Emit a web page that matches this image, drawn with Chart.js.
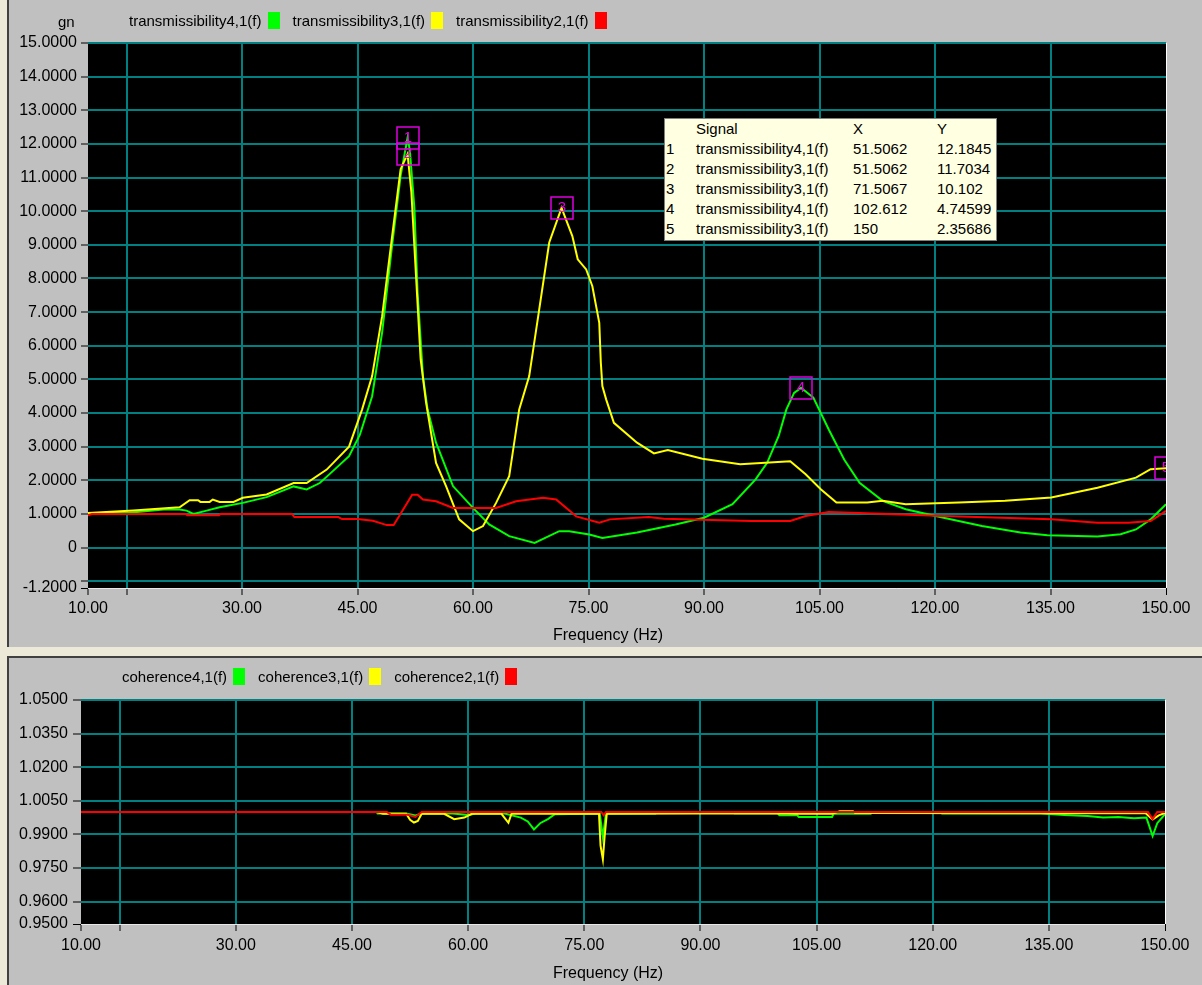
<!DOCTYPE html>
<html>
<head>
<meta charset="utf-8">
<title>transmissibility / coherence</title>
<script src="https://cdn.jsdelivr.net/npm/chart.js@4.4.0/dist/chart.umd.min.js"></script>
<style>
    html, body { margin: 0; padding: 0; }
    body {
        width: 1202px; height: 985px; position: relative; overflow: hidden;
        background: #ece9d8;
        font-family: "Liberation Sans", Arial, sans-serif; color: #000;
    }
    .panel { position: absolute; background: #c0c0c0; box-sizing: border-box; }
    #panelTop { left: 7px; top: 0; width: 1195px; height: 647px; border-left: 2px solid #404040; }
    #panelBottom { left: 7px; top: 656px; width: 1195px; height: 329px; border-left: 2px solid #404040; border-top: 2px solid #404040; }
    canvas { position: absolute; }
    #transChart { left: 9px; top: 0; }
    #cohChart { left: 9px; top: 658px; }
    .legend { position: absolute; display: flex; align-items: center; font-size: 15px; height: 20px; white-space: nowrap; }
    .legend .item { display: flex; align-items: center; margin-right: 13px; }
    .legend .swatch { display: inline-block; width: 12px; height: 17px; margin-left: 6px; }
    #legendTop { left: 129px; top: 10px; }
    #legendBottom { left: 122px; top: 666px; }
    #unitLabel { position: absolute; left: 58px; top: 13px; font-size: 15px; line-height: 18px; }
    .xTitle { position: absolute; left: 508px; width: 200px; text-align: center; font-size: 16px; line-height: 20px; }
    #xTitleTop { top: 625px; }
    #xTitleBottom { top: 963px; }
    #markerTable {
        position: absolute; left: 664px; top: 118px; width: 333px; height: 123px;
        box-sizing: border-box; background: #ffffe1; border: 1px solid #808080;
        font-size: 15px;
    }
    #markerTable .row { position: relative; height: 20px; line-height: 20px; }
    #markerTable .row span { position: absolute; top: 0; white-space: nowrap; }
</style>
</head>
<body>
<div id="panelTop" class="panel"></div>
<div id="panelBottom" class="panel"></div>
<canvas id="transChart" width="1193" height="647"></canvas>
<canvas id="cohChart" width="1193" height="327"></canvas>
<div id="unitLabel">gn</div>
<div id="legendTop" class="legend"></div>
<div id="legendBottom" class="legend"></div>
<div id="markerTable"></div>
<div class="xTitle" id="xTitleTop">Frequency (Hz)</div>
<div class="xTitle" id="xTitleBottom">Frequency (Hz)</div>

<script>
// axis ticks
const freqTicks = [10, 15, 30, 45, 60, 75, 90, 105, 120, 135, 150];
const transTicks = [-1.2, -1, 0, 1, 2, 3, 4, 5, 6, 7, 8, 9, 10, 11, 12, 13, 14, 15];
const cohTicks = [0.95, 0.96, 0.975, 0.99, 1.005, 1.02, 1.035, 1.05];

// transmissibility4,1(f)
const transFreq4 = [10, 15, 19.8, 21.9, 22.8, 23.7, 25.4, 27.1, 30.1, 33.2,
    36.7, 38.4, 40.1, 41.3, 43.9, 45.3, 46.9, 48.2, 49.5, 50.6,
    51.5, 51.8, 52.4, 52.8, 53.5, 54.1, 55.2, 57.4, 60, 62.1,
    64.7, 68.0, 71.2, 72.5, 75.1, 76.8, 81.3, 86.3, 90, 93.7,
    96.7, 98.2, 99.7, 100.7, 101.7, 102.6, 104.2, 106.2, 108.2, 110.2,
    113.2, 116.2, 121.1, 126.1, 131.1, 134.6, 141.1, 144.1, 146.1, 148.0, 150];
const transVal4 = [1.03, 1.03, 1.13, 1.13, 1.10, 1.00, 1.10, 1.20, 1.33, 1.50,
    1.82, 1.73, 1.92, 2.17, 2.72, 3.35, 4.50, 6.40, 9.00, 11.05,
    12.18, 11.80, 10.06, 7.60, 5.10, 4.11, 3.12, 1.83, 1.18, 0.69,
    0.34, 0.14, 0.49, 0.49, 0.39, 0.29, 0.45, 0.69, 0.89, 1.29,
    2.03, 2.52, 3.32, 4.11, 4.60, 4.75, 4.46, 3.51, 2.62, 1.93,
    1.39, 1.14, 0.89, 0.64, 0.45, 0.37, 0.33, 0.40, 0.54, 0.84, 1.29];

// transmissibility3,1(f)
const transFreq3 = [10, 15.9, 21.9, 23.2, 24.3, 24.6, 25.8, 26.2, 27.1, 28.9,
    30.1, 33.2, 36.7, 38.4, 41.0, 43.9, 45.6, 46.9, 48.2, 49.5,
    50.6, 51.5, 52.0, 52.6, 53.2, 53.9, 55.2, 56.5, 58.2, 60,
    61.3, 63.0, 64.7, 66.0, 67.3, 68.6, 69.9, 71.5, 72.9, 73.6,
    74.7, 75.5, 76.4, 76.6, 76.8, 77.3, 78.3, 81.3, 83.5, 85.3,
    89.8, 94.7, 101.2, 103.2, 105.2, 107.2, 111.2, 113.2, 116.2, 123.1,
    129.1, 135.1, 141.1, 146.1, 148.0, 150];
const transVal3 = [1.03, 1.10, 1.20, 1.41, 1.41, 1.36, 1.36, 1.43, 1.36, 1.36,
    1.48, 1.58, 1.92, 1.92, 2.32, 3.00, 4.11, 5.10, 6.88, 9.26,
    11.25, 11.70, 10.56, 8.08, 5.60, 4.32, 2.52, 1.83, 0.84, 0.49,
    0.64, 1.33, 2.12, 4.11, 5.10, 7.08, 9.07, 10.10, 9.26, 8.57,
    8.27, 7.77, 6.68, 5.50, 4.80, 4.40, 3.71, 3.12, 2.80, 2.90,
    2.64, 2.48, 2.57, 2.18, 1.73, 1.34, 1.34, 1.39, 1.29, 1.34,
    1.39, 1.49, 1.78, 2.08, 2.33, 2.36];

// transmissibility2,1(f)
const transFreq2 = [10, 10.5, 22.7, 22.9, 27.0, 27.2, 36.5, 36.8, 42.5, 43.0,
    45.0, 47.0, 48.8, 49.7, 50.4, 52.1, 52.8, 53.5, 55.2, 57.4,
    63.0, 65.6, 69.1, 70.8, 73.4, 76.4, 77.8, 82.8, 84.8, 96.2,
    101.2, 103.2, 106.2, 109.2, 121.1, 135.1, 141.1, 145.1, 148.0, 150];
const transVal2 = [0.96, 1.00, 1.00, 0.96, 0.96, 1.00, 1.00, 0.91, 0.91, 0.85,
    0.85, 0.80, 0.67, 0.67, 0.93, 1.57, 1.57, 1.43, 1.38, 1.18,
    1.18, 1.38, 1.48, 1.43, 0.93, 0.74, 0.84, 0.91, 0.86, 0.79,
    0.79, 0.94, 1.06, 1.04, 0.94, 0.84, 0.74, 0.74, 0.79, 1.09];

// coherence4,1(f)
const cohFreq4 = [10, 48.2, 48.3, 52.0, 53.2, 54.0, 58.0, 60.0, 61.0, 64.7,
    66.8, 67.7, 68.5, 69.3, 70.3, 71.2, 77.0, 77.4, 77.8, 84.2,
    84.4, 94.2, 94.4, 100.0, 100.2, 102.5, 102.7, 107.0, 107.2, 112.0,
    112.2, 121.0, 121.2, 134.0, 137.0, 140.0, 142.0, 144.0, 146.0, 147.6,
    148.4, 149.0, 150];
const cohVal4 = [1.0, 1.0, 0.9993, 0.9993, 0.9985, 0.9993, 0.9993, 0.9987, 0.9993, 0.9993,
    0.9975, 0.9958, 0.9922, 0.9950, 0.9968, 0.9990, 0.9993, 0.9887, 0.9993, 0.9993,
    1.0, 1.0, 0.9994, 0.9994, 0.9985, 0.9985, 0.9978, 0.9978, 0.9992, 0.9992,
    1.0, 1.0, 0.9993, 0.9993, 0.9987, 0.9982, 0.9975, 0.9978, 0.9972, 0.9975,
    0.9893, 0.9950, 0.9990];

// coherence3,1(f)
const cohFreq3 = [10, 48.3, 49.0, 52.0, 52.5, 53.0, 53.5, 54.0, 56.9, 58.2,
    59.5, 60.5, 64.3, 65.2, 65.6, 76.9, 77.1, 77.4, 77.6, 77.9,
    100.0, 102.5, 107.0, 108.0, 109.7, 110.0, 134.0, 147.5, 148.4, 149.2, 150];
const cohVal3 = [1.0, 1.0, 0.9992, 0.9992, 0.9965, 0.9953, 0.9960, 0.9992, 0.9992, 0.9968,
    0.9975, 0.9992, 0.9992, 0.9952, 0.9992, 0.9992, 0.9850, 0.9789, 0.9880, 0.9992,
    0.9994, 0.9992, 0.9992, 1.0003, 1.0003, 0.9995, 0.9994, 0.9994, 0.9967, 0.9985, 0.9996];

// coherence2,1(f)
const cohFreq2 = [10, 49.5, 50.0, 52.2, 53.2, 54.0, 77.2, 77.5, 77.8, 147.8, 148.4, 149.0, 150];
const cohVal2 = [1.0, 1.0, 0.9988, 0.9988, 0.9978, 1.0, 1.0, 0.9985, 1.0, 1.0, 0.9968, 1.0, 1.0];

// markers
const markerNo = [1, 2, 3, 4, 5];
const markerSignal = ["transmissibility4,1(f)", "transmissibility3,1(f)", "transmissibility3,1(f)",
    "transmissibility4,1(f)", "transmissibility3,1(f)"];
const markerX = [51.5062, 51.5062, 71.5067, 102.612, 150];
const markerY = [12.1845, 11.7034, 10.102, 4.74599, 2.35686];

const GREEN = "#00ff00";
const YELLOW = "#ffff00";
const RED = "#ff0000";
const GRID = "#008080";

Chart.defaults.font.family = '"Liberation Sans", Arial, sans-serif';
Chart.defaults.font.size = 16;
Chart.defaults.color = "#000";

function toPoints(freq, vals) {
    return freq.map((f, i) => ({ x: f, y: vals[i] }));
}

function fmt6(v) {
    return String(Number(v.toPrecision(6)));
}

// 검은 플롯 배경
const plotBackground = {
    id: "plotBackground",
    beforeDraw(chart) {
        const a = chart.chartArea;
        const ctx = chart.ctx;
        ctx.save();
        ctx.fillStyle = "#000";
        ctx.fillRect(a.left, a.top, a.right - a.left, a.bottom - a.top);
        ctx.restore();
    }
};

// 마커 박스
const markerBoxes = {
    id: "markerBoxes",
    afterDatasetsDraw(chart) {
        const ctx = chart.ctx;
        const a = chart.chartArea;
        const xs = chart.scales.x;
        const ys = chart.scales.y;
        ctx.save();
        ctx.beginPath();
        ctx.rect(a.left, a.top, a.right - a.left, a.bottom - a.top);
        ctx.clip();
        ctx.strokeStyle = "#e000e0";
        ctx.fillStyle = "#e000e0";
        ctx.lineWidth = 1.5;
        ctx.font = '15px "Liberation Sans", Arial, sans-serif';
        ctx.textAlign = "center";
        ctx.textBaseline = "middle";
        markerNo.forEach((n, i) => {
            const px = Math.round(xs.getPixelForValue(markerX[i]));
            const py = Math.round(ys.getPixelForValue(markerY[i]));
            ctx.strokeRect(px - 11, py - 11, 22, 22);
            ctx.fillText(String(n), px, py);
        });
        ctx.restore();
    }
};

function freqAxis(height, pad) {
    return {
        type: "linear",
        min: 10,
        max: 150,
        afterBuildTicks(axis) {
            axis.ticks = freqTicks.map(v => ({ value: v }));
        },
        afterFit(scale) {
            scale.height = height;
        },
        ticks: {
            autoSkip: false,
            maxRotation: 0,
            minRotation: 0,
            padding: pad,
            callback: v => (v === 15 ? "" : v.toFixed(2))
        },
        grid: {
            color: c => {
                if (!c.tick) return GRID;
                if (c.tick.value === 10) return "rgba(0,0,0,0)";
                if (c.tick.value === 150) return "#ffffff";
                return GRID;
            },
            lineWidth: c => (c.tick && c.tick.value === 150 ? 1 : 2),
            tickColor: "#000",
            tickLength: 7,
            tickWidth: 1
        },
        border: { display: false }
    };
}

function valueAxis(min, max, ticks, width, tickLen, pad, bottomValue, labelFn) {
    return {
        type: "linear",
        min: min,
        max: max,
        afterBuildTicks(axis) {
            axis.ticks = ticks.map(v => ({ value: v }));
        },
        afterFit(scale) {
            scale.width = width;
        },
        ticks: {
            autoSkip: false,
            padding: pad,
            callback: labelFn
        },
        grid: {
            color: c => (c.tick && c.tick.value === bottomValue ? "#e8e8e8" : GRID),
            lineWidth: c => (c.tick && c.tick.value === bottomValue ? 1 : 2),
            tickColor: "#000",
            tickLength: tickLen,
            tickWidth: 1
        },
        border: { display: false }
    };
}

function lineSet(label, color, freq, vals, order) {
    return {
        label: label,
        data: toPoints(freq, vals),
        borderColor: color,
        backgroundColor: color,
        borderWidth: 2,
        pointRadius: 0,
        tension: 0,
        order: order
    };
}

const transData = [
    lineSet("transmissibility4,1(f)", GREEN, transFreq4, transVal4, 2),
    lineSet("transmissibility3,1(f)", YELLOW, transFreq3, transVal3, 1),
    lineSet("transmissibility2,1(f)", RED, transFreq2, transVal2, 0)
];

const cohData = [
    lineSet("coherence4,1(f)", GREEN, cohFreq4, cohVal4, 2),
    lineSet("coherence3,1(f)", YELLOW, cohFreq3, cohVal3, 1),
    lineSet("coherence2,1(f)", RED, cohFreq2, cohVal2, 0)
];

new Chart(document.getElementById("transChart").getContext("2d"), {
    type: "line",
    data: { datasets: transData },
    options: {
        responsive: false,
        animation: false,
        layout: { autoPadding: false, padding: { left: 0, right: 36, top: 43, bottom: 0 } },
        plugins: { legend: { display: false }, tooltip: { enabled: false } },
        scales: {
            x: freqAxis(59, 4),
            y: valueAxis(-1.2, 15, transTicks, 79, 7, 4, -1.2,
                v => (v === 0 ? "0" : (v === -1 ? "" : v.toFixed(4))))
        }
    },
    plugins: [plotBackground, markerBoxes]
});

new Chart(document.getElementById("cohChart").getContext("2d"), {
    type: "line",
    data: { datasets: cohData },
    options: {
        responsive: false,
        animation: false,
        layout: { autoPadding: false, padding: { left: 0, right: 37, top: 42, bottom: 0 } },
        plugins: { legend: { display: false }, tooltip: { enabled: false } },
        scales: {
            x: freqAxis(61, 5),
            y: valueAxis(0.95, 1.05, cohTicks, 72, 8, 5, 0.95, v => v.toFixed(4))
        }
    },
    plugins: [plotBackground]
});

function buildLegend(el, datasets) {
    datasets.forEach(ds => {
        const item = document.createElement("span");
        item.className = "item";
        const text = document.createElement("span");
        text.textContent = ds.label;
        const sw = document.createElement("span");
        sw.className = "swatch";
        sw.style.background = ds.borderColor;
        item.appendChild(text);
        item.appendChild(sw);
        el.appendChild(item);
    });
}

buildLegend(document.getElementById("legendTop"), transData);
buildLegend(document.getElementById("legendBottom"), cohData);

// 마커 테이블
function buildMarkerTable() {
    const box = document.getElementById("markerTable");
    const cols = [1, 31, 188, 272];
    const rows = [["", "Signal", "X", "Y"]];
    markerNo.forEach((n, i) => {
        rows.push([String(n), markerSignal[i], fmt6(markerX[i]), fmt6(markerY[i])]);
    });
    rows.forEach(r => {
        const row = document.createElement("div");
        row.className = "row";
        r.forEach((t, j) => {
            const s = document.createElement("span");
            s.style.left = cols[j] + "px";
            s.textContent = t;
            row.appendChild(s);
        });
        box.appendChild(row);
    });
}

buildMarkerTable();
</script>
</body>
</html>
